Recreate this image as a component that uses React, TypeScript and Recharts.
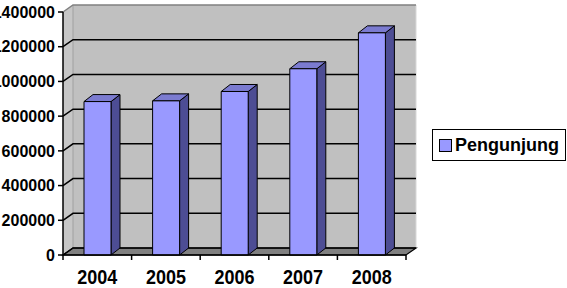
import React from 'react';
import { BarChart, Bar, XAxis, YAxis, CartesianGrid, Legend } from 'recharts';

// data
const years = ['2004', '2005', '2006', '2007', '2008'];
const pengunjung = [884000, 888000, 942000, 1073000, 1280000];
const yTicks = [0, 200000, 400000, 600000, 800000, 1000000, 1200000, 1400000];
const seriesName = 'Pengunjung';

const data = years.map((year, i) => ({ year, [seriesName]: pengunjung[i] }));

const W = 567;
const H = 288;
const LEFT = 63;
const TOP = 12;
const RIGHT = 161;
const BOTTOM = 33;
const DX = 10; // depth of the 3d box
const DY = 7;
const BX = 9; // depth of each column
const BY = 7;
const FONT = '"Liberation Sans", Arial, sans-serif';
const FRONT = '#9999ff';
const SIDE = '#4d4d94';
const TOPC = '#7b7bd0';

const band = (W - RIGHT - LEFT) / years.length;

// back wall, side wall and floor, drawn in an svg under the chart
function Walls() {
  const x0 = LEFT;
  const x1 = W - RIGHT;
  const y0 = TOP;
  const y1 = H - BOTTOM;
  return (
    <svg width={W} height={H} style={{ position: 'absolute', left: 0, top: 0 }}>
      <polygon
        points={`${x0 + DX},${y0 - DY} ${x1 + DX},${y0 - DY} ${x1 + DX},${y1 - DY} ${x0 + DX},${y1 - DY}`}
        fill="#c0c0c0"
      />
      <polygon
        points={`${x0},${y0} ${x0 + DX},${y0 - DY} ${x0 + DX},${y1 - DY} ${x0},${y1}`}
        fill="#c6c6c6"
      />
      <line x1={x0 + DX} y1={y0 - DY} x2={x0 + DX} y2={y1 - DY} stroke="#a0a0a0" />
      <line x1={x1 + DX} y1={y0 - DY} x2={x1 + DX} y2={y1 - DY} stroke="#d8d8d8" />
      <polygon
        points={`${x0},${y1} ${x0 + DX},${y1 - DY} ${x1 + DX},${y1 - DY} ${x1},${y1}`}
        fill="#808080"
        stroke="#000"
        strokeWidth={1.2}
      />
    </svg>
  );
}

const gridLine = (p: any) => {
  const isTop = p.y1 <= TOP + 0.5;
  return (
    <path
      key={p.key ?? `g-${p.y1}`}
      d={`M${p.x1},${p.y1}L${p.x1 + DX},${p.y1 - DY}L${p.x2 + DX},${p.y1 - DY}`}
      stroke={isTop ? '#808080' : '#000'}
      strokeWidth={1.5}
      fill="none"
    />
  );
};

const Column = (p: any) => {
  const { x, y, width: w, height: h } = p;
  if (!h) return null;
  const side = `${x + w},${y} ${x + w + BX},${y - BY} ${x + w + BX},${y + h - BY} ${x + w},${y + h}`;
  const top = `${x},${y} ${x + BX},${y - BY} ${x + w + BX},${y - BY} ${x + w},${y}`;
  return (
    <g stroke="#000" strokeWidth={1} strokeLinejoin="round">
      <polygon points={side} fill={SIDE} />
      <polygon points={top} fill={TOPC} />
      <rect x={x} y={y} width={w} height={h} fill={FRONT} />
    </g>
  );
};

const XTick = (p: any) => {
  const { x, payload } = p;
  const index = p.index ?? payload?.index ?? 0;
  const axisY = H - BOTTOM;
  return (
    <g>
      {index === 0 && (
        <line x1={x - band / 2} y1={axisY} x2={x - band / 2} y2={axisY + 5} stroke="#000" strokeWidth={1.5} />
      )}
      <line x1={x + band / 2} y1={axisY} x2={x + band / 2} y2={axisY + 5} stroke="#000" strokeWidth={1.5} />
      <text
        x={x}
        y={axisY + 29}
        textAnchor="middle"
        fontFamily={FONT}
        fontWeight="bold"
        fontSize={18}
        fill="#000"
        transform={`translate(${x},${axisY + 29}) scale(1,1.15) translate(${-x},${-(axisY + 29)})`}
      >
        {payload.value}
      </text>
    </g>
  );
};

const LegendBox = (props: any) => {
  const item = props.payload?.[0];
  return (
    <div
      style={{
        boxSizing: 'border-box',
        width: 134,
        height: 32,
        border: '1.5px solid #000',
        background: '#fff',
        display: 'flex',
        alignItems: 'center',
        paddingLeft: 6,
        fontFamily: FONT,
        fontWeight: 'bold',
        fontSize: 18,
        color: '#000',
      }}
    >
      <span
        style={{
          display: 'inline-block',
          width: 11,
          height: 11,
          background: FRONT,
          border: '1px solid #000',
          marginRight: 3,
        }}
      />
      {item ? item.value : seriesName}
    </div>
  );
};

export default function App() {
  return (
    <div style={{ position: 'absolute', left: 0, top: 0, width: W, height: H, background: '#fff' }}>
      <Walls />
      <div style={{ position: 'absolute', left: 0, top: 0 }}>
        <BarChart
          width={W}
          height={H}
          data={data}
          margin={{ top: TOP, right: RIGHT, bottom: 0, left: 0 }}
          barSize={27}
        >
          <CartesianGrid vertical={false} horizontal={gridLine} />
          <XAxis
            dataKey="year"
            height={BOTTOM}
            axisLine={{ stroke: '#000', strokeWidth: 1.5 }}
            tickLine={false}
            tick={<XTick />}
            interval={0}
          />
          <YAxis
            width={LEFT}
            domain={[0, 1400000]}
            ticks={yTicks}
            interval={0}
            axisLine={{ stroke: '#000', strokeWidth: 1.5 }}
            tickLine={{ stroke: '#000', strokeWidth: 1.5 }}
            tickSize={5}
            tickMargin={3}
            tick={{ fill: '#000', fontFamily: FONT, fontWeight: 'bold', fontSize: 16 }}
          />
          <Legend
            layout="vertical"
            align="center"
            verticalAlign="middle"
            wrapperStyle={{ left: 432, top: 129, width: 134, height: 32 }}
            content={<LegendBox />}
          />
          <Bar dataKey={seriesName} name={seriesName} fill={FRONT} shape={<Column />} isAnimationActive={false} />
        </BarChart>
      </div>
    </div>
  );
}
